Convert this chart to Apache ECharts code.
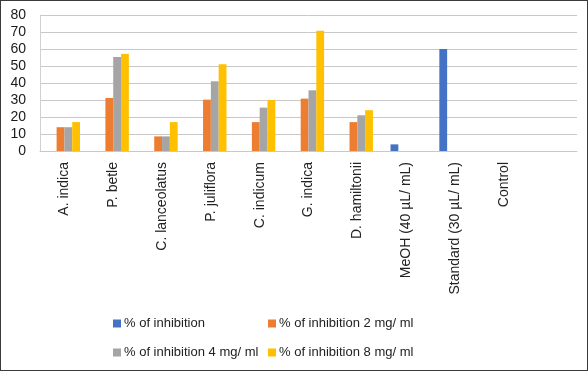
<!DOCTYPE html>
<html>
<head>
<meta charset="utf-8">
<script src="https://cdn.jsdelivr.net/npm/echarts@6/dist/echarts.min.js"></script>
<style>
html,body{margin:0;padding:0;background:#fff;}
#wrap{width:588px;height:371px;box-sizing:border-box;border:1px solid #3a3a3a;position:relative;}
#chart{position:absolute;left:0;top:0;width:586px;height:369px;}
</style>
</head>
<body>
<div id="wrap"><div id="chart"></div></div>
<script>
const categories = ['A. indica','P. betle','C. lanceolatus','P. juliflora','C. indicum','G. indica','D. hamiltonii','MeOH (40 µL/ mL)','Standard (30 µL/ mL)','Control',''];
const seriesNames = ['% of inhibition','% of inhibition 2 mg/ ml','% of inhibition 4 mg/ ml','% of inhibition 8 mg/ ml'];
const inhibition    = [null,null,null,null,null,null,null,3.9,60,null,null];
const inhibition2mg = [14,31.2,8.6,30.2,17,30.8,17,null,null,null,null];
const inhibition4mg = [14,55.3,8.6,41,25.5,35.7,21,null,null,null,null];
const inhibition8mg = [17,57.1,17,51,30,70.8,24,null,null,null,null];
const yTicks = {min:0,max:80,interval:10};

const colors = ['#4472C4','#ED7D31','#A5A5A5','#FFC000'];
const font = 'Liberation Sans';
const values = [inhibition,inhibition2mg,inhibition4mg,inhibition8mg];

const chart = echarts.init(document.getElementById('chart'));
const legendPos = [[112,316],[267,316],[112,345],[267,345]];
chart.setOption({
  animation:false,
  color:colors,
  grid:{left:39,right:10,top:14,bottom:219,containLabel:false},
  legend: seriesNames.map((n,i)=>({
    data:[n], left:legendPos[i][0], top:legendPos[i][1],
    itemWidth:8,itemHeight:8,itemGap:4,icon:'rect',
    textStyle:{fontFamily:font,fontSize:13,color:'#222',padding:[0,0,0,-2]},
    padding:0
  })),
  xAxis:{
    type:'category',data:categories,
    axisLine:{lineStyle:{color:'#c8c8c8',width:1}},
    axisTick:{show:false},
    axisLabel:{rotate:90,interval:0,margin:11,fontFamily:font,fontSize:14,color:'#222'}
  },
  yAxis:{
    type:'value',min:yTicks.min,max:yTicks.max,interval:yTicks.interval,
    axisLine:{show:true,lineStyle:{color:'#d0d0d0',width:1}},axisTick:{show:false},
    splitLine:{lineStyle:{color:'#c8c8c8',width:1}},
    axisLabel:{margin:14,fontFamily:font,fontSize:14,color:'#1a1a1a'}
  },
  series: seriesNames.map((n,i)=>({
    name:n,type:'bar',data:values[i],
    barGap:'0%',barCategoryGap:'36%',
    itemStyle:{color:colors[i]}
  }))
});
</script>
</body>
</html>
